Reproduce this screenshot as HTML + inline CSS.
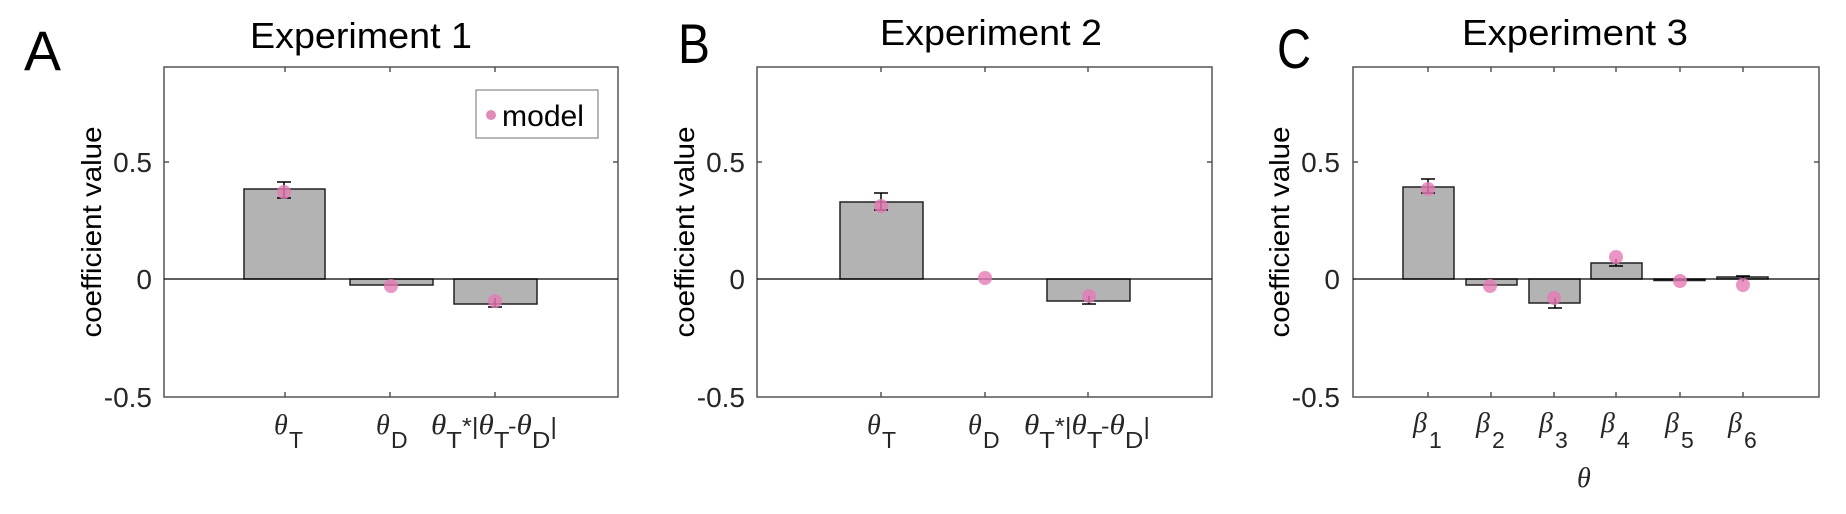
<!DOCTYPE html>
<html><head><meta charset="utf-8"><style>
html,body{margin:0;padding:0;background:#fff;}
svg{display:block;}
text{font-family:"Liberation Sans",sans-serif;fill:#000;}
.tk{font-size:28px;fill:#262626;}
.th{font-family:"Liberation Serif",serif;font-style:italic;font-size:28px;fill:#262626;}
.sb{font-size:23px;fill:#262626;}
</style></head><body>
<svg width="1846" height="514" viewBox="0 0 1846 514" xmlns="http://www.w3.org/2000/svg">
<defs>
<g id="mk"><circle r="7" fill="#e57bb5" fill-opacity="0.8"/></g>
</defs>

<!-- ===== Panel A ===== -->
<text x="24" y="70" font-size="56" textLength="37" lengthAdjust="spacingAndGlyphs">A</text>
<text x="250" y="48" font-size="36" textLength="222" lengthAdjust="spacingAndGlyphs">Experiment 1</text>
<rect x="164" y="67" width="454" height="330" fill="none" stroke="#555" stroke-width="1.5"/>
<!-- ticks -->
<g stroke="#555" stroke-width="1.5">
<line x1="285" y1="67" x2="285" y2="72"/><line x1="390" y1="67" x2="390" y2="72"/><line x1="495" y1="67" x2="495" y2="72"/>
<line x1="285" y1="397" x2="285" y2="392"/><line x1="390" y1="397" x2="390" y2="392"/><line x1="495" y1="397" x2="495" y2="392"/>
<line x1="164" y1="162" x2="169" y2="162"/><line x1="618" y1="162" x2="613" y2="162"/>
</g>
<text class="tk" x="152" y="172" text-anchor="end">0.5</text>
<text class="tk" x="152" y="289" text-anchor="end">0</text>
<text class="tk" x="152" y="407" text-anchor="end">-0.5</text>
<text transform="translate(101,232) rotate(-90)" font-size="28" text-anchor="middle" textLength="211" lengthAdjust="spacingAndGlyphs">coefficient value</text>
<!-- bars -->
<g fill="#b3b3b3" stroke="#222" stroke-width="1.5">
<rect x="244" y="189" width="81" height="90"/>
<rect x="350" y="279" width="83" height="6"/>
<rect x="454" y="279" width="83" height="25"/>
</g>
<line x1="164" y1="279" x2="618" y2="279" stroke="#000" stroke-width="1.2"/>
<!-- error bars -->
<g stroke="#000" stroke-width="1.5">
<line x1="284" y1="182" x2="284" y2="198"/><line x1="277" y1="182" x2="291" y2="182"/><line x1="277" y1="198" x2="291" y2="198"/>
<line x1="495" y1="298" x2="495" y2="307"/><line x1="488" y1="307" x2="502" y2="307"/>
</g>
<use href="#mk" x="284" y="192"/><use href="#mk" x="391" y="286"/><use href="#mk" x="495" y="301"/>
<!-- legend -->
<rect x="476" y="90" width="122" height="48" fill="#fff" stroke="#888" stroke-width="1.2"/>
<circle cx="491" cy="115" r="5" fill="#e08ab8"/>
<text x="502" y="126" font-size="30" textLength="82" lengthAdjust="spacingAndGlyphs">model</text>
<!-- x labels -->
<text class="th" x="274" y="434">θ</text><text class="sb" x="289" y="448">T</text>
<text class="th" x="376" y="434">θ</text><text class="sb" x="391" y="448">D</text>
<text x="431" y="434" class="th" textLength="126" lengthAdjust="spacingAndGlyphs">θ<tspan class="sb" dy="14" font-style="normal" font-family="Liberation Sans">T</tspan><tspan class="sb" dy="-14" font-style="normal" font-family="Liberation Sans">*|</tspan>θ<tspan class="sb" dy="14" font-style="normal" font-family="Liberation Sans">T</tspan><tspan class="sb" dy="-14" font-style="normal" font-family="Liberation Sans">-</tspan>θ<tspan class="sb" dy="14" font-style="normal" font-family="Liberation Sans">D</tspan><tspan class="sb" dy="-14" font-style="normal" font-family="Liberation Sans">|</tspan></text>

<!-- ===== Panel B ===== -->
<text x="678" y="63" font-size="56" textLength="32" lengthAdjust="spacingAndGlyphs">B</text>
<text x="880" y="45" font-size="36" textLength="222" lengthAdjust="spacingAndGlyphs">Experiment 2</text>
<rect x="757" y="67" width="455" height="330" fill="none" stroke="#555" stroke-width="1.5"/>
<g stroke="#555" stroke-width="1.5">
<line x1="881" y1="67" x2="881" y2="72"/><line x1="985" y1="67" x2="985" y2="72"/><line x1="1088" y1="67" x2="1088" y2="72"/>
<line x1="881" y1="397" x2="881" y2="392"/><line x1="985" y1="397" x2="985" y2="392"/><line x1="1088" y1="397" x2="1088" y2="392"/>
<line x1="757" y1="162" x2="762" y2="162"/><line x1="1212" y1="162" x2="1207" y2="162"/>
</g>
<text class="tk" x="745" y="172" text-anchor="end">0.5</text>
<text class="tk" x="745" y="289" text-anchor="end">0</text>
<text class="tk" x="745" y="407" text-anchor="end">-0.5</text>
<text transform="translate(694,232) rotate(-90)" font-size="28" text-anchor="middle" textLength="211" lengthAdjust="spacingAndGlyphs">coefficient value</text>
<g fill="#b3b3b3" stroke="#222" stroke-width="1.5">
<rect x="840" y="202" width="83" height="77"/>
<rect x="1047" y="279" width="83" height="22"/>
</g>
<line x1="757" y1="279" x2="1212" y2="279" stroke="#000" stroke-width="1.2"/>
<g stroke="#000" stroke-width="1.5">
<line x1="881" y1="193" x2="881" y2="210"/><line x1="874" y1="193" x2="888" y2="193"/><line x1="874" y1="210" x2="888" y2="210"/>
<line x1="1089" y1="296" x2="1089" y2="304"/><line x1="1082" y1="304" x2="1096" y2="304"/>
</g>
<use href="#mk" x="881" y="206"/><use href="#mk" x="985" y="278"/><use href="#mk" x="1089" y="296"/>
<text class="th" x="867" y="434">θ</text><text class="sb" x="882" y="448">T</text>
<text class="th" x="968" y="434">θ</text><text class="sb" x="983" y="448">D</text>
<text x="1024" y="434" class="th" textLength="126" lengthAdjust="spacingAndGlyphs">θ<tspan class="sb" dy="14" font-style="normal" font-family="Liberation Sans">T</tspan><tspan class="sb" dy="-14" font-style="normal" font-family="Liberation Sans">*|</tspan>θ<tspan class="sb" dy="14" font-style="normal" font-family="Liberation Sans">T</tspan><tspan class="sb" dy="-14" font-style="normal" font-family="Liberation Sans">-</tspan>θ<tspan class="sb" dy="14" font-style="normal" font-family="Liberation Sans">D</tspan><tspan class="sb" dy="-14" font-style="normal" font-family="Liberation Sans">|</tspan></text>

<!-- ===== Panel C ===== -->
<text x="1277" y="68" font-size="56" textLength="34" lengthAdjust="spacingAndGlyphs">C</text>
<text x="1462" y="45" font-size="36" textLength="226" lengthAdjust="spacingAndGlyphs">Experiment 3</text>
<rect x="1353" y="67" width="466" height="330" fill="none" stroke="#555" stroke-width="1.5"/>
<g stroke="#555" stroke-width="1.5">
<line x1="1428" y1="67" x2="1428" y2="72"/><line x1="1491" y1="67" x2="1491" y2="72"/><line x1="1554" y1="67" x2="1554" y2="72"/><line x1="1616" y1="67" x2="1616" y2="72"/><line x1="1680" y1="67" x2="1680" y2="72"/><line x1="1743" y1="67" x2="1743" y2="72"/>
<line x1="1428" y1="397" x2="1428" y2="392"/><line x1="1491" y1="397" x2="1491" y2="392"/><line x1="1554" y1="397" x2="1554" y2="392"/><line x1="1616" y1="397" x2="1616" y2="392"/><line x1="1680" y1="397" x2="1680" y2="392"/><line x1="1743" y1="397" x2="1743" y2="392"/>
<line x1="1353" y1="162" x2="1358" y2="162"/><line x1="1819" y1="162" x2="1814" y2="162"/>
</g>
<text class="tk" x="1340" y="172" text-anchor="end">0.5</text>
<text class="tk" x="1340" y="289" text-anchor="end">0</text>
<text class="tk" x="1340" y="407" text-anchor="end">-0.5</text>
<text transform="translate(1289,232) rotate(-90)" font-size="28" text-anchor="middle" textLength="211" lengthAdjust="spacingAndGlyphs">coefficient value</text>
<g fill="#b3b3b3" stroke="#222" stroke-width="1.5">
<rect x="1403" y="187" width="51" height="92"/>
<rect x="1466" y="279" width="51" height="6"/>
<rect x="1529" y="279" width="51" height="24"/>
<rect x="1591" y="263" width="51" height="16"/>
<rect x="1654" y="279" width="51" height="1.5"/>
<rect x="1717" y="277" width="51" height="2"/>
</g>
<line x1="1353" y1="279" x2="1819" y2="279" stroke="#000" stroke-width="1.2"/>
<g stroke="#000" stroke-width="1.5">
<line x1="1428" y1="179" x2="1428" y2="193"/><line x1="1421" y1="179" x2="1435" y2="179"/><line x1="1421" y1="193" x2="1435" y2="193"/>
<line x1="1555" y1="298" x2="1555" y2="308"/><line x1="1548" y1="308" x2="1562" y2="308"/>
<line x1="1616" y1="259" x2="1616" y2="266"/><line x1="1609" y1="266" x2="1623" y2="266"/>
<line x1="1743" y1="276" x2="1743" y2="282"/><line x1="1736" y1="276" x2="1750" y2="276"/>
</g>
<use href="#mk" x="1428" y="189"/><use href="#mk" x="1490" y="286"/><use href="#mk" x="1554" y="298"/><use href="#mk" x="1616" y="257"/><use href="#mk" x="1680" y="281"/><use href="#mk" x="1743" y="285"/>
<g>
<text class="th" x="1413" y="432">β</text><text class="sb" x="1429" y="448">1</text>
<text class="th" x="1476" y="432">β</text><text class="sb" x="1492" y="448">2</text>
<text class="th" x="1539" y="432">β</text><text class="sb" x="1555" y="448">3</text>
<text class="th" x="1601" y="432">β</text><text class="sb" x="1617" y="448">4</text>
<text class="th" x="1665" y="432">β</text><text class="sb" x="1681" y="448">5</text>
<text class="th" x="1728" y="432">β</text><text class="sb" x="1744" y="448">6</text>
</g>
<text class="th" x="1577" y="487">θ</text>
</svg>
</body></html>
